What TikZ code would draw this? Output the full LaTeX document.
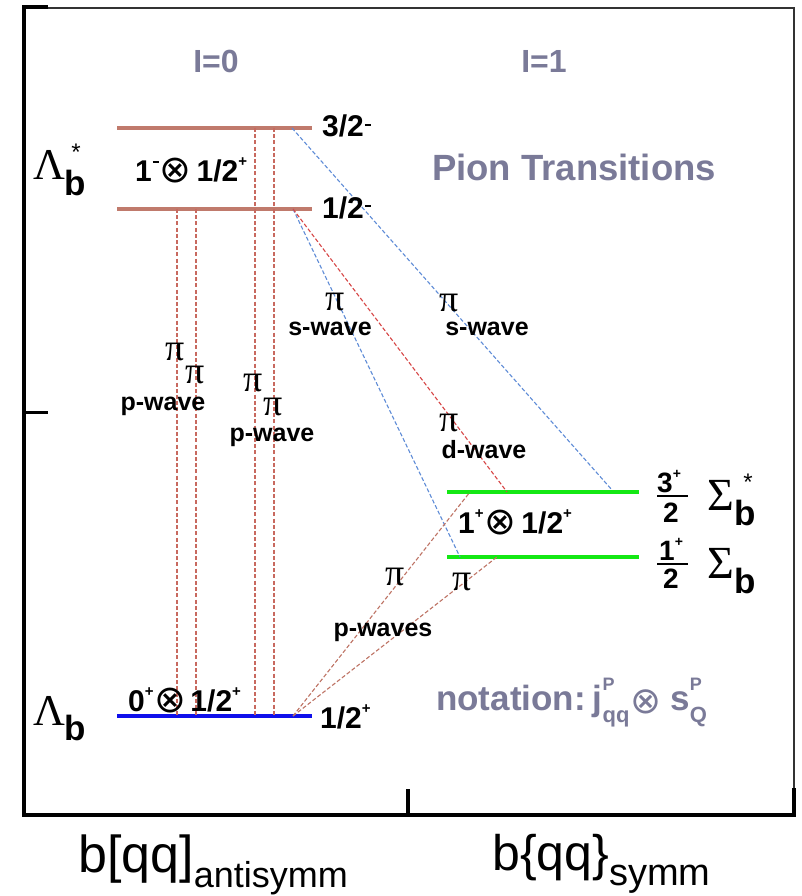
\documentclass[tikz,border=0pt]{standalone}
\usepackage{fontspec}
\setmainfont{Liberation Sans}
\newfontfamily\grk{Liberation Serif}
\newfontfamily\dvs{DejaVu Sans}
\usepackage{graphicx}
\definecolor{lvlbrown}{RGB}{192,122,108}
\definecolor{vdash}{RGB}{200,105,95}
\definecolor{bdash}{RGB}{95,140,215}
\definecolor{rdash}{RGB}{215,70,70}
\definecolor{pdash}{RGB}{190,115,100}
\definecolor{lvlgreen}{RGB}{20,232,20}
\definecolor{lvlblue}{RGB}{15,15,235}
\definecolor{notegrey}{RGB}{122,122,152}
\newcommand{\fsz}[1]{\fontsize{#1}{#1}\selectfont}
\newcommand{\plus}{\raisebox{15pt}{\fsz{15}\bfseries +}}
\newcommand{\minus}[1][11pt]{\kern1pt\rule[#1]{6pt}{1.8pt}}
\newcommand{\ot}[1][38]{\raisebox{-1pt}{\dvs\fsz{#1}\mdseries ⊗}}
\newcommand{\subb}[1]{\raisebox{-15pt}{\rmfamily\bfseries\fsz{35}#1}}
\newcommand{\supP}[2]{\rlap{\raisebox{20pt}{\fsz{18}#1}}\raisebox{-12pt}{\fsz{22}#2}}
\tikzset{
  lvl/.style={line width=4pt},
  trans/.style={line width=1.1pt, dash pattern=on 4pt off 2.2pt},
  lbl/.style={inner sep=0pt, font=\bfseries\fsz{30}},
  pil/.style={inner sep=0pt, font=\grk\fsz{38}},
  wav/.style={inner sep=0pt, anchor=base, font=\bfseries\fsz{25}},
  grey/.style={inner sep=0pt, text=notegrey, font=\bfseries\fsz{32}},
  sym/.style={inner sep=0pt, anchor=base west},
  axis/.style={line width=4pt, line cap=rect, line join=miter},
}
\begin{document}
\begin{tikzpicture}[x=1pt,y=-1pt]
\useasboundingbox[fill=white] (0,0) rectangle (802,896);
% frame
\draw[line width=1.6pt, black!80, line join=miter] (24,8) -- (794,8) -- (794,815);
\draw[axis] (46,7) -- (24,7) -- (24,815) -- (794,815) -- (794,790);
\draw[axis, line width=3pt] (24,412) -- (46,412);
\draw[axis] (408,815) -- (408,791);
% level coordinates
\coordinate (a1) at (117,128); \coordinate (a2) at (312,128);
\coordinate (b1) at (117,209); \coordinate (b2) at (312,209);
\coordinate (g1) at (117,716); \coordinate (g2) at (312,716);
\coordinate (s1) at (447,492); \coordinate (s2) at (639,492);
\coordinate (t1) at (447,557); \coordinate (t2) at (639,557);
% levels
\draw[lvl, lvlbrown] (a1) -- (a2);
\draw[lvl, lvlbrown] (b1) -- (b2);
\draw[lvl, lvlblue] (g1) -- (g2);
\draw[lvl, lvlgreen] (s1) -- (s2);
\draw[lvl, lvlgreen] (t1) -- (t2);
% transition end points
\coordinate (v1t) at (177,209); \coordinate (v1b) at (177,716);
\coordinate (v2t) at (196,209); \coordinate (v2b) at (196,716);
\coordinate (v3t) at (255,128); \coordinate (v3b) at (255,716);
\coordinate (v4t) at (274,128); \coordinate (v4b) at (274,716);
\coordinate (d1a) at (292,128); \coordinate (d1b) at (612,490);
\coordinate (d2a) at (293,209); \coordinate (d2b) at (460,557);
\coordinate (d3b) at (507,492);
\coordinate (p0) at (293,716); \coordinate (p1) at (470,492); \coordinate (p2) at (497,557);
% vertical p-wave transitions
\draw[trans, vdash] (v1t) -- (v1b);
\draw[trans, vdash] (v2t) -- (v2b);
\draw[trans, vdash] (v3t) -- (v3b);
\draw[trans, vdash] (v4t) -- (v4b);
% diagonal transitions
\draw[trans, bdash] (d1a) -- (d1b);
\draw[trans, bdash] (d2a) -- (d2b);
\draw[trans, rdash] (d2a) -- (d3b);
\draw[trans, pdash] (p0) -- (p1);
\draw[trans, pdash] (p0) -- (p2);
% level labels
\node[lbl, anchor=base west] (j32m) at (322,137) {3/2\minus};
\node[lbl, anchor=base west] (j12m) at (322,218) {1/2\minus};
\node[lbl, anchor=base west] (j12p) at (320,728) {1/2\plus};
\node[lbl, anchor=base west] (c1) at (135,182) {1\minus[19pt]\kern1pt\ot\hspace{5pt}1/2\plus};
\node[lbl, anchor=base west] (c0) at (128,711) {0\plus\kern1pt\ot\hspace{4pt}1/2\plus};
\node[lbl, anchor=base west] (c2) at (458,533) {1\plus\kern1pt\ot\hspace{5pt}1/2\plus};
% baryon symbols
\node[sym] (lamstar) at (33,180) {\grk\fsz{44}Λ\kern-1pt\subb{b}};
\node[inner sep=0pt, anchor=base, font=\fsz{24}] (lamstarx) at (76,161) {*};
\node[sym] (lam) at (33,725) {\grk\fsz{44}Λ\kern-1pt\subb{b}};
\node[sym] (sigstar) at (707,510) {\grk\fsz{46}Σ\kern1pt\subb{b}};
\node[inner sep=0pt, anchor=base, font=\fsz{24}] (sigstarx) at (748,490) {*};
\node[sym] (sig) at (707,578) {\grk\fsz{46}Σ\kern1pt\subb{b}};
% fractions
\node[sym, font=\bfseries\fsz{28}] (f3n) at (657,492) {3\raisebox{14pt}{\fsz{14}+}};
\node[sym, font=\bfseries\fsz{28}] (f3d) at (663,522) {2};
\draw[line width=2pt] (657,495.5) -- (688,495.5);
\node[sym, font=\bfseries\fsz{28}] (f1n) at (659,560) {1\raisebox{14pt}{\fsz{14}+}};
\node[sym, font=\bfseries\fsz{28}] (f1d) at (663,588) {2};
\draw[line width=2pt] (657,563.5) -- (688,563.5);
% pion labels
\node[pil] (pi1) at (175,352) {π};
\node[pil] (pi2) at (195,375) {π};
\node[wav] (pw1) at (163,410) {p-wave};
\node[pil] (pi3) at (253,383) {π};
\node[pil] (pi4) at (273,407) {π};
\node[wav] (pw2) at (272,441) {p-wave};
\node[pil] (pi5) at (335,302) {π};
\node[wav] (sw1) at (330,335) {s-wave};
\node[pil] (pi6) at (449,303) {π};
\node[wav] (sw2) at (487,335) {s-wave};
\node[pil] (pi7) at (449,423) {π};
\node[wav] (dw) at (484,458) {d-wave};
\node[pil] (pi8) at (395,577) {π};
\node[pil] (pi9) at (462,582) {π};
\node[wav] (pws) at (383,636) {p-waves};
% grey annotations
\node[grey, anchor=base] (iso0) at (216,73) {I=0};
\node[grey, anchor=base] (iso1) at (544,73) {I=1};
\node[grey, anchor=base, font=\bfseries\fsz{36.5}] (title) at (574,181) {Pion Transitions};
\node[grey, anchor=base west, font=\bfseries\fsz{35}] (note) at (436,710) {notation:\hspace{7pt}j\supP{P}{qq}\kern1pt\raisebox{-3pt}{\dvs\fsz{37}\mdseries ⊗}\hspace{9pt}s\supP{P}{Q}};
% bottom labels
\node[sym, font=\fsz{52}] (bqa) at (78,872) {b[qq]\raisebox{-15pt}{\fsz{36}antisymm}};
\node[sym, font=\fsz{50}] (bqs) at (492,870) {b\{qq\}\raisebox{-15pt}{\fsz{38}symm}};
\end{tikzpicture}
\end{document}
